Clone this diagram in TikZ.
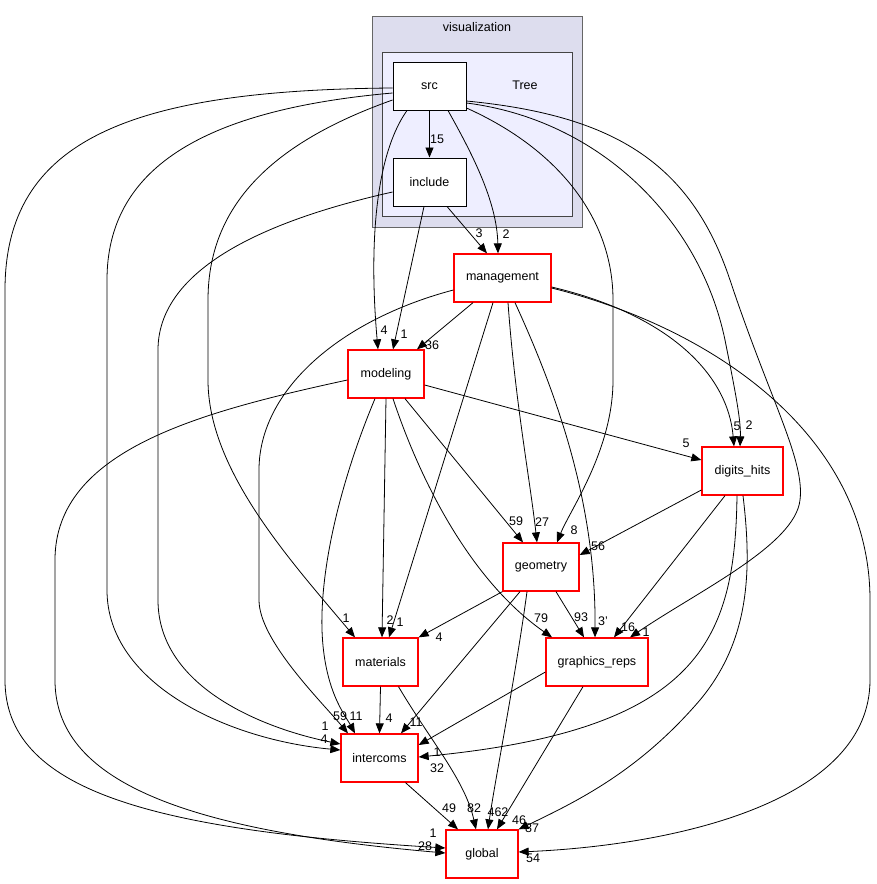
\documentclass[tikz,border=0pt]{standalone}
\usepackage{fontspec}
\setmainfont{Liberation Sans}
\usetikzlibrary{
  arrows.meta % For arrow tips
}

\definecolor{visfill}{HTML}{DDDDEE}
\definecolor{treefill}{HTML}{EEEEFF}
\definecolor{visline}{HTML}{666666}
\definecolor{treeline}{HTML}{444444}
\definecolor{dirred}{HTML}{FF0000}

\begin{document}
\begin{tikzpicture}[
      x=1pt, y=-1pt, % Pixelraster, y nach unten
      line width=0.8pt,
      font=\fontsize{12.5}{14}\selectfont,
      >={Triangle[length=10pt,width=8pt]}, % Default arrow tip
      dirbox/.style={draw=dirred, fill=white, line width=1.3pt, minimum height=48pt, inner sep=0pt}, % Verzeichnisse
      subbox/.style={draw=black, fill=white, line width=1pt, minimum height=48pt, minimum width=73pt, inner sep=0pt}, % Unterverzeichnisse
      dep/.style={->, black}, % Abhaengigkeiten
      lab/.style={inner sep=0pt}, % Kantenbeschriftung
    ]

    \useasboundingbox (0,0) rectangle (877,884);

    % Cluster
    \filldraw[fill=visfill, draw=visline, line width=1pt] (372,16) rectangle (582,227);
    \node (vislabel) at (477,27) {visualization};
    \filldraw[fill=treefill, draw=treeline, line width=1pt] (382,52) rectangle (572,216);
    \node (treelabel) at (525,85) {Tree};

    % Knoten
    \node[subbox] (src) at (429.5,86) {src};
    \node[subbox] (include) at (429.5,182) {include};
    \node[dirbox, minimum width=97pt] (management) at (502.5,278) {management};
    \node[dirbox, minimum width=76pt] (modeling) at (386,374) {modeling};
    \node[dirbox, minimum width=81pt] (digits) at (742.5,471) {digits\_hits};
    \node[dirbox, minimum width=76pt] (geo) at (541,567) {geometry};
    \node[dirbox, minimum width=75pt] (materials) at (380.5,662) {materials};
    \node[dirbox, minimum width=102pt] (graphics) at (597,662) {graphics\_reps};
    \node[dirbox, minimum width=77pt] (intercoms) at (379.5,758) {intercoms};
    \node[dirbox, minimum width=72pt] (global) at (482,854) {global};

    % Kanten von src
    \draw[dep] (src.south) -- (include.north) node[lab] at (437,139) {15};
    \draw[dep] ([xshift=18.5pt]src.south) .. controls (470,150) and (497,200) .. ([xshift=-4.5pt]management.north)
      node[lab] at (506,234) {2};
    \draw[dep] ([xshift=-22.5pt]src.south) .. controls (372,160) and (370,260) .. ([xshift=-8pt]modeling.north)
      node[lab] at (384,330) {4};
    \draw[dep] ([yshift=-22pt]src.east) .. controls (560,150) and (613,220) .. (613,300) -- (613,380)
      .. controls (613,450) and (570,510) .. ([xshift=16pt]geo.north) node[lab] at (574,530) {8};
    \draw[dep] ([yshift=-17pt]src.east) .. controls (600,120) and (700,220) .. (725,340)
      .. controls (735,390) and (741,420) .. ([xshift=-2.5pt]digits.north) node[lab] at (749,425) {2};
    \draw[dep] ([yshift=-15pt]src.east) .. controls (610,115) and (690,160) .. (730,280)
      .. controls (770,400) and (805,460) .. (800,500)
      .. controls (795,545) and (700,590) .. ([xshift=33pt]graphics.north) node[lab] at (646,632) {1};
    \draw[dep] ([yshift=-2pt]src.west) .. controls (130,90) and (5,140) .. (5,290) -- (5,680)
      .. controls (5,790) and (150,830) .. ([yshift=6pt]global.west) node[lab] at (433,833) {1};
    \draw[dep] ([yshift=-7pt]src.west) .. controls (200,110) and (107,170) .. (107,280) -- (107,590)
      .. controls (107,685) and (230,740) .. ([yshift=8pt]intercoms.west) node[lab] at (324,739) {4};
    \draw[dep] ([yshift=-14pt]src.west) .. controls (280,140) and (208,200) .. (208,300) -- (208,380)
      .. controls (208,470) and (290,560) .. ([xshift=-25.5pt]materials.north) node[lab] at (346,618) {1};

    % Kanten von include
    \draw[dep] ([xshift=17.5pt]include.south) -- ([xshift=-15.5pt]management.north) node[lab] at (479,233) {3};
    \draw[dep] ([xshift=-5.5pt]include.south) -- ([xshift=7pt]modeling.north) node[lab] at (404,334) {1};
    \draw[dep] ([yshift=-10pt]include.west) .. controls (290,215) and (158,260) .. (158,350) -- (158,600)
      .. controls (158,690) and (270,730) .. ([yshift=14pt]intercoms.west) node[lab] at (325,726) {1};

    % Kanten von management
    \draw[dep] ([xshift=-29.5pt]management.south) -- ([xshift=31pt]modeling.north) node[lab] at (432,345) {36};
    \draw[dep] ([yshift=-9pt]management.east) .. controls (670,315) and (728,375) .. ([xshift=-8.5pt]digits.north)
      node[lab] at (737,426) {5};
    \draw[dep] ([yshift=-10pt]management.east) .. controls (720,330) and (870,440) .. (870,600) -- (870,680)
      .. controls (870,800) and (680,845) .. ([yshift=2pt]global.east) node[lab] at (533,858) {54};
    \draw[dep] ([xshift=12.5pt]management.south) .. controls (555,390) and (596,500) .. ([xshift=-2pt]graphics.north)
      node[lab] at (603,621) {3'};
    \draw[dep] ([xshift=5.5pt]management.south) .. controls (515,400) and (530,480) .. ([xshift=-4pt]geo.north)
      node[lab] at (542,522) {27};
    \draw[dep] ([xshift=-9.5pt]management.south) -- ([xshift=8.5pt]materials.north) node[lab] at (400,622) {1};
    \draw[dep] ([yshift=-12pt]management.west) .. controls (340,320) and (259,390) .. (259,470) -- (259,600)
      .. controls (259,640) and (320,700) .. ([xshift=-31.5pt]intercoms.north) node[lab] at (340,716) {59};

    % Kanten von modeling
    \draw[dep] ([yshift=-11pt]modeling.east) -- ([yshift=11pt]digits.west) node[lab] at (686,443) {5};
    \draw[dep] ([xshift=19pt]modeling.south) -- ([xshift=-18pt]geo.north) node[lab] at (516,521) {59};
    \draw[dep] ([xshift=7pt]modeling.south) .. controls (420,480) and (470,580) .. ([xshift=-45pt]graphics.north)
      node[lab] at (541,618) {79};
    \draw[dep] (modeling.south) -- ([xshift=1.5pt]materials.north) node[lab] at (390,620) {2};
    \draw[dep] ([xshift=-11pt]modeling.south) .. controls (345,470) and (320,560) .. (322,630)
      .. controls (324,690) and (345,715) .. ([xshift=-24.5pt]intercoms.north) node[lab] at (356,716) {11};
    \draw[dep] ([yshift=-6pt]modeling.west) .. controls (200,412) and (55,450) .. (55,560) -- (55,680)
      .. controls (55,780) and (180,830) .. ([yshift=1pt]global.west) node[lab] at (425,846) {28};

    % Kanten von digits_hits
    \draw[dep] ([yshift=-19pt]digits.west) -- ([yshift=12pt]geo.east) node[lab] at (598,546) {56};
    \draw[dep] ([xshift=-17.5pt]digits.south) -- ([xshift=17pt]graphics.north) node[lab] at (628,627) {16};
    \draw[dep] ([xshift=-5.5pt]digits.south) .. controls (735,640) and (700,730) .. ([yshift=1pt]intercoms.east)
      node[lab] at (437,768) {32};
    \draw[dep] ([xshift=0.5pt]digits.south) .. controls (752,570) and (750,640) .. (700,700)
      .. controls (640,770) and (580,800) .. (global.north east) node[lab] at (532,828) {87};

    % Kanten von geometry
    \draw[dep] (geo.south west) -- (materials.north east) node[lab] at (439,637) {4};
    \draw[dep] ([xshift=-21pt]geo.south) -- ([xshift=21.5pt]intercoms.north) node[lab] at (416,722) {11};
    \draw[dep] ([xshift=15pt]geo.south) -- ([xshift=-13pt]graphics.north) node[lab] at (581,617) {93};
    \draw[dep] ([xshift=-14pt]geo.south) .. controls (515,680) and (495,780) .. ([xshift=6pt]global.north)
      node[lab] at (498,812) {462};

    % Kanten von graphics_reps
    \draw[dep] ([yshift=-10pt]graphics.west) -- ([yshift=13pt]intercoms.east) node[lab] at (437,752) {1};
    \draw[dep] ([xshift=-14pt]graphics.south) -- ([xshift=15pt]global.north) node[lab] at (519,820) {46};

    % Kanten von materials und intercoms
    \draw[dep] (materials.south) -- (intercoms.north) node[lab] at (389,718) {4};
    \draw[dep] ([xshift=18pt]materials.south) .. controls (430,740) and (465,780) .. ([xshift=-6pt]global.north)
      node[lab] at (474,808) {82};
    \draw[dep] ([xshift=26pt]intercoms.south) -- ([xshift=-24pt]global.north) node[lab] at (449,808) {49};
  \end{tikzpicture}
\end{document}
